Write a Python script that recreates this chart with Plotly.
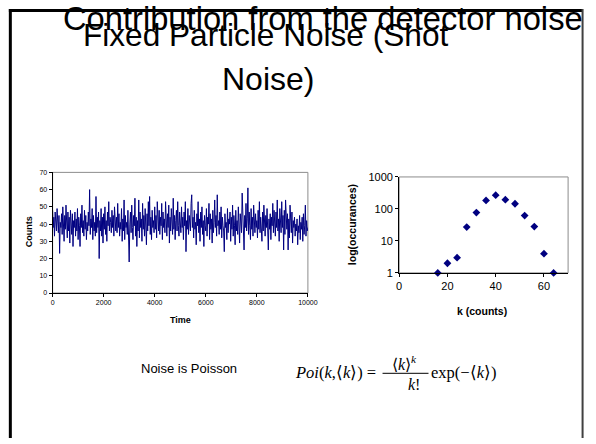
import plotly.graph_objects as go

W, H = 596, 444


def fx(x):
    return x / W


def fy(y):
    return 1 - y / H


# ---- data: noise trace ----
time_step = 25
counts = [
    48, 38, 44, 33, 47, 40, 36, 49, 42, 35, 45, 23, 41, 38, 46, 34, 50, 39, 30, 45,
    37, 51, 41, 32, 47, 36, 44, 29, 48, 40, 34, 46, 27, 42, 38, 47, 33, 43, 36, 49,
    31, 44, 39, 27, 46, 38, 51, 35, 42, 33, 48, 37, 45, 31, 41, 36, 47, 39, 60, 34,
    43, 38, 49, 31, 45, 36, 41, 33, 56, 35, 44, 38, 47, 20, 42, 36, 49, 33, 44, 29,
    46, 37, 50, 34, 42, 30, 47, 39, 53, 36, 44, 41, 35, 48, 38, 45, 33, 50, 40, 36,
    44, 35, 52, 38, 46, 33, 41, 37, 49, 30, 43, 36, 54, 31, 45, 38, 41, 34, 48, 30,
    18, 40, 47, 35, 51, 38, 31, 45, 39, 55, 33, 44, 27, 42, 36, 54, 32, 47, 38, 43,
    30, 52, 37, 45, 33, 49, 41, 28, 46, 36, 53, 39, 56, 34, 44, 31, 48, 38, 42, 35,
    50, 37, 45, 32, 53, 41, 36, 48, 34, 44, 39, 52, 31, 47, 38, 43, 35, 53, 40, 33,
    46, 38, 51, 29, 44, 36, 49, 40, 34, 55, 37, 45, 31, 42, 48, 36, 53, 39, 33, 47,
    41, 35, 50, 38, 44, 31, 47, 39, 53, 24, 42, 37, 49, 34, 45, 40, 36, 52, 57, 38,
    44, 32, 48, 37, 41, 28, 46, 39, 53, 35, 43, 30, 47, 38, 50, 34, 42, 27, 45, 39,
    36, 49, 33, 44, 40, 52, 31, 46, 37, 43, 29, 48, 35, 41, 54, 38, 45, 33, 57, 39,
    42, 34, 47, 37, 50, 32, 44, 39, 36, 24, 46, 38, 41, 31, 49, 35, 43, 40, 47, 30,
    44, 37, 51, 33, 45, 39, 28, 48, 36, 42, 34, 50, 38, 29, 46, 40, 35, 58, 41, 33,
    25, 45, 38, 52, 36, 43, 61, 34, 47, 39, 31, 49, 37, 44, 33, 51, 40, 35, 46, 38,
    42, 32, 48, 37, 53, 35, 44, 39, 30, 47, 36, 51, 41, 33, 45, 38, 49, 34, 25, 43,
    37, 46, 31, 44, 39, 52, 35, 48, 41, 33, 47, 38, 54, 36, 43, 30, 49, 40, 35, 53,
    38, 45, 25, 48, 34, 54, 41, 37, 46, 25, 43, 32, 51, 39, 35, 47, 29, 42, 38, 44,
    33, 40, 36, 43, 28, 39, 35, 45, 31, 41, 37, 44, 30, 46, 34, 39, 51, 33, 42, 36,
    38,
]
time = [i * time_step for i in range(len(counts))]

# ---- data: histogram (log scale) ----
k_counts = [16, 20, 24, 28, 32, 36, 40, 44, 48, 52, 56, 60, 64]
occurrences = [1, 2, 3, 27, 77, 185, 270, 195, 145, 62, 28, 4, 1]

left_yticks = [0, 10, 20, 30, 40, 50, 60, 70]
left_xticks = [0, 2000, 4000, 6000, 8000, 10000]
right_yticks = [1, 10, 100, 1000]
right_xticks = [0, 20, 40, 60]

title_line1 = "Contribution from the detector noise"
title_line2 = "Fixed Particle Noise (Shot"
title_line3 = "Noise)"
caption = "Noise is Poisson"

NAVY = "#000080"
SANS = "Liberation Sans, Arial, sans-serif"
SERIF = "Liberation Serif, Times New Roman, serif"

fig = go.Figure()
fig.add_trace(go.Scatter(x=time, y=counts, mode="lines",
                         line=dict(color=NAVY, width=1),
                         xaxis="x", yaxis="y", showlegend=False))
fig.add_trace(go.Scatter(x=k_counts, y=occurrences, mode="markers",
                         marker=dict(symbol="diamond", size=6, color=NAVY),
                         cliponaxis=False,
                         xaxis="x2", yaxis="y2", showlegend=False))

axis_common = dict(showgrid=False, zeroline=False, showline=True,
                   linecolor="black", linewidth=1, ticks="outside",
                   ticklen=3, tickcolor="black")

fig.update_layout(
    width=W, height=H,
    margin=dict(l=0, r=0, t=0, b=0),
    paper_bgcolor="white", plot_bgcolor="white",
    font=dict(family=SANS, color="black"),
    xaxis=dict(domain=[fx(50.7), fx(311.7)], range=[0, 10000],
               tickvals=left_xticks, ticktext=[str(v) for v in left_xticks],
               tickfont=dict(size=7), anchor="y", **axis_common),
    yaxis=dict(domain=[fy(295), fy(171)], range=[0, 70],
               tickvals=left_yticks, ticktext=[str(v) for v in left_yticks],
               tickfont=dict(size=7), anchor="x", **axis_common),
    xaxis2=dict(domain=[fx(405), fx(577.7)], range=[0, 70],
                tickvals=right_xticks, ticktext=[str(v) for v in right_xticks],
                tickfont=dict(size=11), anchor="y2", **axis_common),
    yaxis2=dict(domain=[fy(274.3), fy(175.7)], type="log", range=[0, 3],
                tickvals=right_yticks, ticktext=[str(v) for v in right_yticks],
                tickfont=dict(size=11), anchor="x2", **axis_common),
)

shapes = []
# gray plot-area borders
for xr, yr in (("x domain", "y domain"), ("x2 domain", "y2 domain")):
    shapes.append(dict(type="rect", xref=xr, yref=yr, x0=0, x1=1, y0=0, y1=1,
                       line=dict(color="#8c8c8c", width=1), layer="below"))
# slide frame
shapes.append(dict(type="line", xref="paper", yref="paper",
                   x0=fx(7.5), x1=fx(7.5), y0=fy(3), y1=fy(444),
                   line=dict(color="black", width=3)))
shapes.append(dict(type="line", xref="paper", yref="paper",
                   x0=fx(6), x1=fx(592), y0=fy(4.5), y1=fy(4.5),
                   line=dict(color="black", width=3)))
shapes.append(dict(type="line", xref="paper", yref="paper",
                   x0=fx(592.5), x1=fx(592.5), y0=fy(3), y1=fy(444),
                   line=dict(color="#404040", width=2)))
# fraction bar
shapes.append(dict(type="line", xref="paper", yref="paper",
                   x0=fx(388), x1=fx(435), y0=fy(377.5), y1=fy(377.5),
                   line=dict(color="black", width=1)))
fig.update_layout(shapes=shapes)


def ann(text, x, y, size, xanchor="center", yanchor="middle", family=SANS,
        angle=0):
    return dict(text=text, xref="paper", yref="paper", x=fx(x), y=fy(y),
                xanchor=xanchor, yanchor=yanchor, showarrow=False,
                textangle=angle, font=dict(size=size, family=family,
                                           color="black"))


annotations = [
    ann(title_line1, 327, 12.5, 32.7),
    ann(title_line2, 268, 30, 31.6),
    ann(title_line3, 271, 75, 32),
    ann("<b>Counts</b>", 26, 232, 9, angle=-90),
    ann("<b>Time</b>", 181, 323, 9),
    ann("<b>log(occurances)</b>", 357, 225, 10.5, angle=-90),
    ann("<b>k (counts)</b>", 490, 313, 10.5),
    ann(caption, 190, 373, 13),
    ann("<i>Poi</i>(<i>k</i>,\u27e8<i>k</i>\u27e9) =", 296, 377, 16.5,
        xanchor="left", family=SERIF),
    ann("\u27e8<i>k</i>\u27e9<sup><i>k</i></sup>", 410, 367, 16, family=SERIF),
    ann("<i>k</i>!", 420, 389, 16, family=SERIF),
    ann("exp(\u2212\u27e8<i>k</i>\u27e9)", 435, 377, 16.5, xanchor="left",
        family=SERIF),
]
fig.update_layout(annotations=annotations)

fig.write_html(
    "out.html",
    config={"displayModeBar": False},
    post_script="document.body.style.margin='0';document.body.style.overflow='hidden';",
)
